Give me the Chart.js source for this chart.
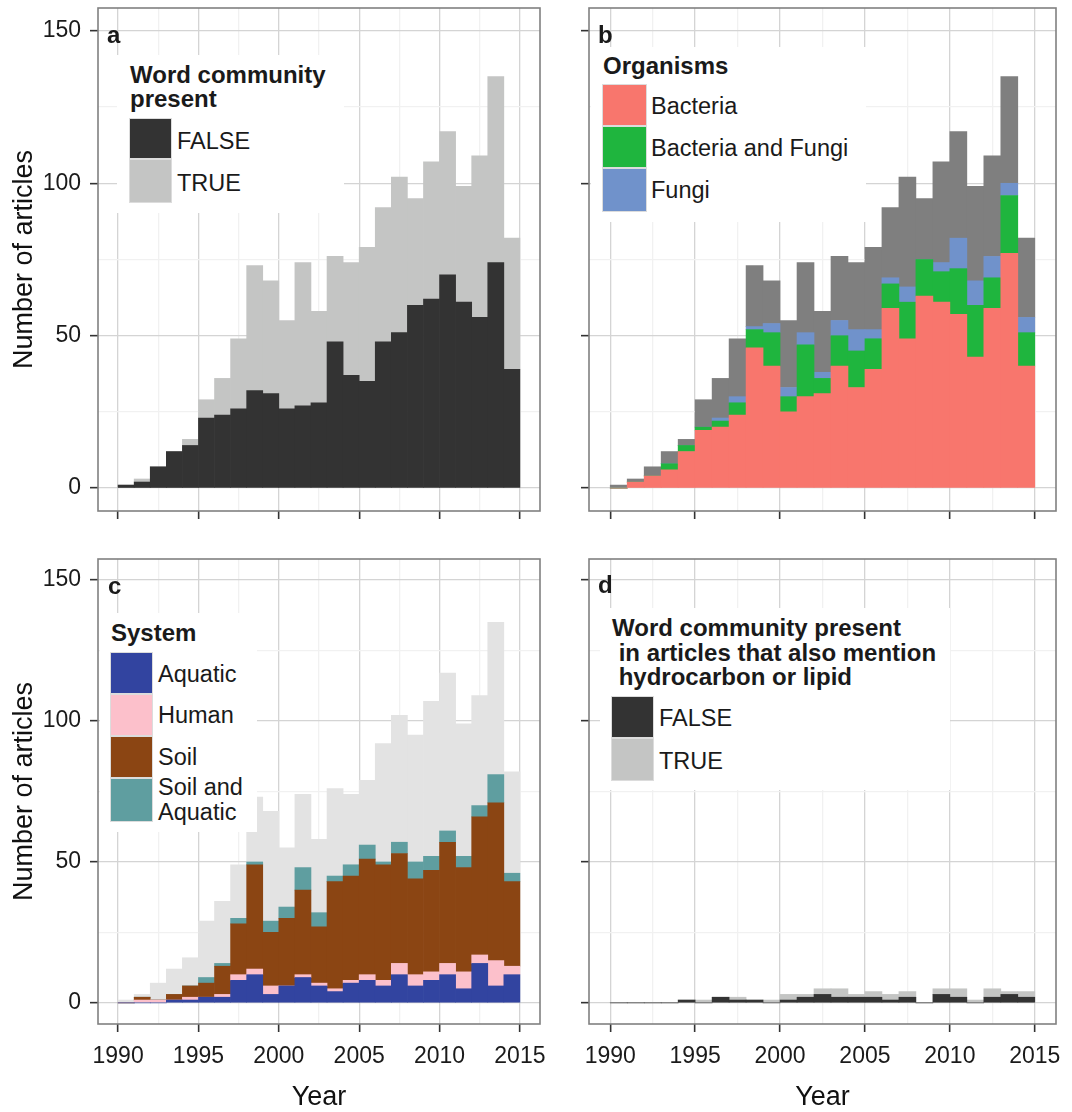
<!DOCTYPE html>
<html>
<head>
<meta charset="utf-8">
<script src="https://cdn.jsdelivr.net/npm/chart.js@4.4.1/dist/chart.umd.min.js"></script>
<style>
  body { margin: 0; background: #fff; }
  #fig { position: relative; width: 1072px; height: 1112px; overflow: hidden;
         font-family: "Liberation Sans", Arial, Helvetica, sans-serif; color: #1a1a1a; }
  canvas { position: absolute; }
  .caja { position: absolute; background: #fff; }
  .txt { position: absolute; white-space: pre; line-height: 24px; }
  .sw { position: absolute; box-sizing: border-box; border: 1px solid #dcdcdc; }
</style>
</head>
<body>
<div id="fig">
  <canvas id="pa" width="560" height="540" style="left:0px;top:0px"></canvas>
  <canvas id="pb" width="512" height="540" style="left:560px;top:0px"></canvas>
  <canvas id="pc" width="560" height="572" style="left:0px;top:540px"></canvas>
  <canvas id="pd" width="512" height="572" style="left:560px;top:540px"></canvas>
</div>
<script>
// años (cada barra cubre [año, año+1])
const years = [1990, 1991, 1992, 1993, 1994, 1995, 1996, 1997, 1998, 1999, 2000, 2001, 2002,
               2003, 2004, 2005, 2006, 2007, 2008, 2009, 2010, 2011, 2012, 2013, 2014];
const yearTicks = [1990, 1995, 2000, 2005, 2010, 2015];
const countTicks = [0, 50, 100, 150];

// panel a: Word community present
const aFalse = [1, 2, 7, 12, 14, 23, 24, 26, 32, 31, 26, 27, 28, 48, 37, 35, 48, 51, 60, 62, 70, 61, 56, 74, 39];
const aTrue  = [0, 1, 0, 0, 2, 6, 12, 23, 41, 37, 29, 47, 30, 28, 37, 44, 44, 51, 35, 45, 47, 38, 53, 61, 43];

// panel b: Organisms
const bBacteria  = [0, 2, 4, 6, 12, 19, 20, 24, 46, 40, 25, 30, 31, 40, 33, 39, 59, 49, 63, 61, 57, 43, 59, 77, 40];
const bBactFungi = [0, 0, 0, 2, 2, 1, 2, 4, 6, 11, 5, 17, 5, 10, 12, 10, 8, 12, 12, 10, 15, 17, 10, 19, 11];
const bFungi     = [0, 0, 0, 0, 0, 0, 1, 2, 1, 3, 3, 4, 2, 5, 7, 3, 2, 5, 0, 3, 10, 8, 7, 4, 5];
const bNA        = [1, 1, 3, 4, 2, 9, 13, 19, 20, 14, 22, 23, 20, 21, 22, 27, 23, 36, 20, 33, 35, 31, 33, 35, 26];

// panel c: System
const cAquatic = [0, 0, 0, 1, 1, 2, 2, 8, 10, 3, 6, 9, 6, 4, 7, 8, 6, 10, 6, 8, 10, 5, 14, 6, 10];
const cHuman   = [0, 1, 1, 0, 1, 0, 1, 2, 2, 3, 0, 1, 1, 1, 1, 2, 2, 4, 4, 3, 4, 6, 3, 9, 3];
const cSoil    = [0, 1, 0, 2, 4, 5, 10, 18, 37, 19, 24, 30, 20, 38, 37, 41, 41, 39, 34, 36, 43, 37, 49, 56, 30];
const cSoilAq  = [0, 0, 0, 0, 0, 2, 1, 2, 1, 4, 4, 8, 5, 2, 4, 5, 1, 4, 6, 5, 4, 4, 4, 10, 3];
const cNA      = [1, 1, 6, 9, 10, 20, 22, 19, 23, 39, 21, 26, 26, 31, 25, 23, 42, 45, 45, 55, 56, 47, 39, 54, 36];

// panel d: hydrocarbon or lipid
const dFalse = [0, 0, 0, 0, 1, 0, 2, 1, 1, 0, 1, 2, 3, 2, 2, 2, 1, 2, 0, 3, 2, 0, 2, 3, 2];
const dTrue  = [0, 0, 0, 0, 0, 1, 0, 1, 0, 1, 2, 1, 2, 3, 1, 2, 2, 2, 0, 2, 3, 1, 3, 1, 2];

const FUENTE = '"Liberation Sans", Arial, Helvetica, sans-serif';
const GRID_MAYOR = '#d4d4d4';
const GRID_MENOR = '#f1f1f1';

// ticks mayores + líneas menores a mitad de camino (como ggplot)
function conMenores(lista) {
    const out = [];
    lista.forEach((v, i) => {
        out.push(v);
        if (i < lista.length - 1) out.push((v + lista[i + 1]) / 2);
    });
    return out;
}
const xTodos = conMenores(yearTicks);
const yTodos = conMenores(countTicks);

// marco gris del panel
const marco = {
    id: 'marco',
    afterDatasetsDraw(chart) {
        const { ctx, chartArea: a } = chart;
        ctx.save();
        ctx.strokeStyle = '#808080';
        ctx.lineWidth = 1.6;
        ctx.strokeRect(a.left, a.top, a.right - a.left, a.bottom - a.top);
        ctx.restore();
    }
};

function sinPadding(s) {
    s.paddingTop = 0; s.paddingBottom = 0; s.paddingLeft = 0; s.paddingRight = 0;
}

function crearPanel(id, series, cfg) {
    const esMayor = (lista) => (c) => c.tick && lista.includes(c.tick.value);
    const xMayor = esMayor(yearTicks);
    const yMayor = esMayor(countTicks);

    return new Chart(document.getElementById(id), {
        type: 'bar',
        data: {
            datasets: series.map(s => ({
                label: s.label,
                data: years.map((yr, i) => ({ x: yr + 0.5, y: s.data[i] })),
                backgroundColor: s.color,
                borderWidth: 0,
                barPercentage: 1,
                categoryPercentage: 1
            }))
        },
        options: {
            responsive: false,
            maintainAspectRatio: false,
            animation: false,
            devicePixelRatio: 1,
            layout: { padding: { top: cfg.top, right: cfg.right, left: 0, bottom: 0 } },
            plugins: { legend: { display: false }, tooltip: { enabled: false } },
            scales: {
                x: {
                    type: 'linear',
                    stacked: true,
                    min: 1988.75,
                    max: 2016.25,
                    offset: false,
                    border: { display: false },
                    grid: {
                        offset: false,
                        color: c => xMayor(c) ? GRID_MAYOR : GRID_MENOR,
                        lineWidth: 1.3,
                        drawTicks: true,
                        tickLength: 8,
                        tickWidth: 1.6,
                        tickColor: c => xMayor(c) ? '#333' : 'rgba(0,0,0,0)'
                    },
                    ticks: {
                        display: cfg.xLabels,
                        autoSkip: false,
                        maxRotation: 0,
                        padding: 11,
                        color: '#1a1a1a',
                        font: { family: FUENTE, size: 23 },
                        callback: v => yearTicks.includes(v) ? String(v) : ''
                    },
                    title: {
                        display: cfg.xLabels,
                        text: 'Year',
                        color: '#111',
                        font: { family: FUENTE, size: 27, lineHeight: 1 },
                        padding: { top: 0, bottom: 0.5 }
                    },
                    afterBuildTicks: s => { s.ticks = xTodos.map(v => ({ value: v })); },
                    afterFit: s => { s.height = cfg.xHeight; sinPadding(s); }
                },
                y: {
                    stacked: true,
                    min: -7.5,
                    max: 157.5,
                    border: { display: false },
                    grid: {
                        color: c => yMayor(c) ? GRID_MAYOR : GRID_MENOR,
                        lineWidth: 1.3,
                        drawTicks: true,
                        tickLength: 8,
                        tickWidth: 1.6,
                        tickColor: c => yMayor(c) ? '#333' : 'rgba(0,0,0,0)'
                    },
                    ticks: {
                        display: cfg.yLabels,
                        autoSkip: false,
                        padding: 9,
                        color: '#1a1a1a',
                        font: { family: FUENTE, size: 23 },
                        callback: v => countTicks.includes(v) ? String(v) : ''
                    },
                    title: {
                        display: cfg.yLabels,
                        text: 'Number of articles',
                        color: '#111',
                        font: { family: FUENTE, size: 27, lineHeight: 1 },
                        padding: { top: 11, bottom: 0 }
                    },
                    afterBuildTicks: s => { s.ticks = yTodos.map(v => ({ value: v })); },
                    afterFit: s => { s.width = cfg.yWidth; sinPadding(s); }
                }
            }
        },
        plugins: [marco]
    });
}

const serieA = [
    { label: 'FALSE', data: aFalse, color: '#333333' },
    { label: 'TRUE', data: aTrue, color: '#c4c5c4' }
];
const serieB = [
    { label: 'Bacteria', data: bBacteria, color: '#f8766d' },
    { label: 'Bacteria and Fungi', data: bBactFungi, color: '#1fb53e' },
    { label: 'Fungi', data: bFungi, color: '#7092cb' },
    { label: 'NA', data: bNA, color: '#7f7f7f' }
];
const serieC = [
    { label: 'Aquatic', data: cAquatic, color: '#3244a0' },
    { label: 'Human', data: cHuman, color: '#fcc0cb' },
    { label: 'Soil', data: cSoil, color: '#8b4513' },
    { label: 'Soil and\nAquatic', data: cSoilAq, color: '#5f9ea0' },
    { label: 'NA', data: cNA, color: '#e3e3e3' }
];
const serieD = [
    { label: 'FALSE', data: dFalse, color: '#333333' },
    { label: 'TRUE', data: dTrue, color: '#c4c5c4' }
];

crearPanel('pa', serieA, { top: 8, right: 20, yWidth: 98, xHeight: 29, yLabels: true, xLabels: false });
crearPanel('pb', serieB, { top: 8, right: 16, yWidth: 29, xHeight: 29, yLabels: false, xLabels: false });
crearPanel('pc', serieC, { top: 19, right: 20, yWidth: 98, xHeight: 88, yLabels: true, xLabels: true });
crearPanel('pd', serieD, { top: 19, right: 16, yWidth: 29, xHeight: 88, yLabels: false, xLabels: true });

// ---- leyendas y letras de panel (texto HTML) ----
const fig = document.getElementById('fig');

function texto(str, x, base, size, bold) {
    const d = document.createElement('div');
    d.className = 'txt';
    d.textContent = str;
    d.style.left = x + 'px';
    d.style.top = (base - 12 - 0.3465 * size) + 'px';
    d.style.fontSize = size + 'px';
    if (bold) d.style.fontWeight = 'bold';
    fig.appendChild(d);
}

function caja(x, y, w, h) {
    const d = document.createElement('div');
    d.className = 'caja';
    Object.assign(d.style, { left: x + 'px', top: y + 'px', width: w + 'px', height: h + 'px' });
    fig.appendChild(d);
}

function muestra(x, y, w, h, color) {
    const d = document.createElement('div');
    d.className = 'sw';
    Object.assign(d.style, { left: x + 'px', top: y + 'px', width: w + 'px', height: h + 'px', background: color });
    fig.appendChild(d);
}

function leyenda(L, serie) {
    caja(L.caja[0], L.caja[1], L.caja[2], L.caja[3]);
    L.titulo.forEach((t, i) => texto(t, L.tituloX, L.tituloBase[i], 24, true));
    let y = L.swY;
    serie.filter(s => s.label !== 'NA').forEach((s, i) => {
        const h = L.swH[i];
        muestra(L.swX, y, L.swW, h, s.color);
        s.label.split('\n').forEach((linea, j) => texto(linea, L.labelX, L.labelBase[i] + j * 25, 23.5, false));
        y += h;
    });
}

leyenda({ caja: [117, 55, 227, 158], titulo: ['Word community', 'present'], tituloX: 130, tituloBase: [83.3, 107],
          swX: 129, swY: 118, swW: 43, swH: [41, 44], labelX: 177, labelBase: [149.5, 190.7] }, serieA);
leyenda({ caja: [591, 47, 275, 175], titulo: ['Organisms'], tituloX: 603, tituloBase: [74],
          swX: 602, swY: 84, swW: 45, swH: [42, 42, 44], labelX: 651, labelBase: [114.3, 156.5, 198.3] }, serieB);
leyenda({ caja: [100, 613, 157, 219], titulo: ['System'], tituloX: 111, tituloBase: [641.7],
          swX: 110, swY: 652, swW: 43, swH: [41.5, 42.5, 41.5, 44.5], labelX: 158, labelBase: [681.7, 723.3, 765, 795] }, serieC);
leyenda({ caja: [600, 608, 350, 182], titulo: ['Word community present', ' in articles that also mention', ' hydrocarbon or lipid'],
          tituloX: 612, tituloBase: [636, 661, 685.3],
          swX: 611, swY: 696, swW: 43, swH: [41.5, 43.5], labelX: 659, labelBase: [726, 768.7] }, serieD);

texto('a', 107, 43.3, 24, true);
texto('b', 598, 43.3, 24, true);
texto('c', 108, 594.3, 24, true);
texto('d', 598, 593.3, 24, true);
</script>
</body>
</html>
